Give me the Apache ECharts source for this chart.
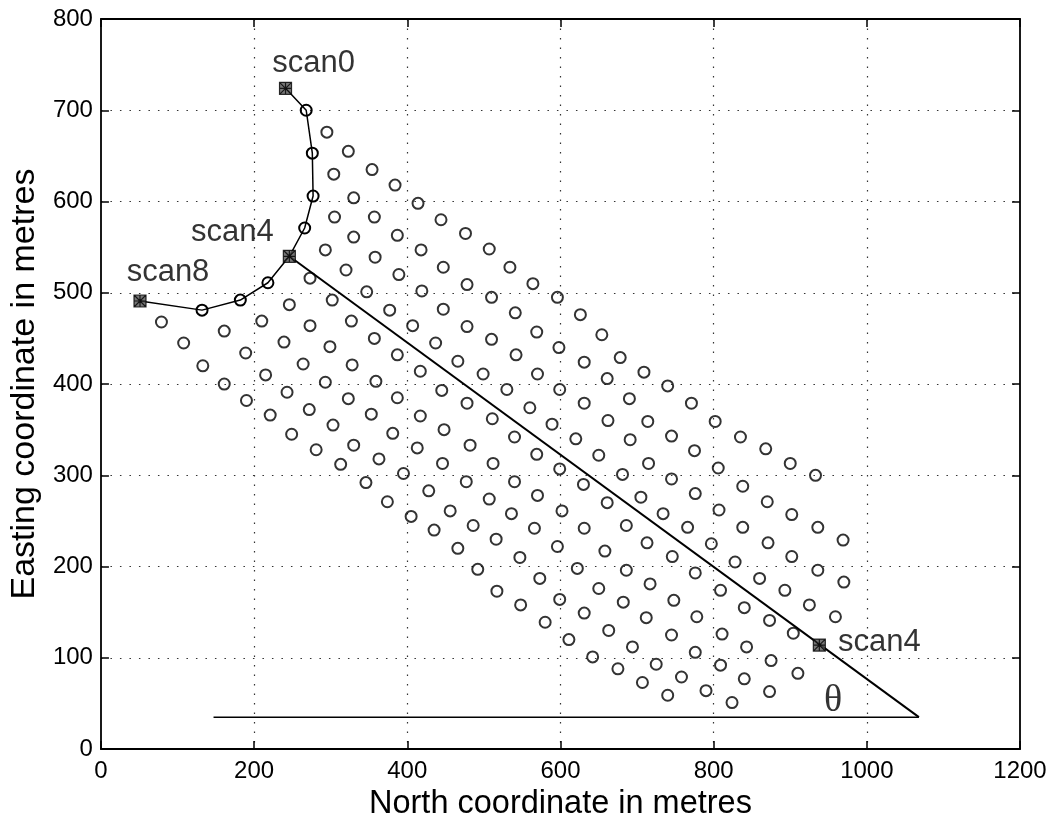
<!DOCTYPE html>
<html>
<head>
<meta charset="utf-8">
<title>Survey scan layout</title>
<script src="https://cdn.jsdelivr.net/npm/echarts@6/dist/echarts.min.js"></script>
<style>
  html, body { margin: 0; padding: 0; background: #fff; }
  #chart { width: 1055px; height: 826px; }
</style>
</head>
<body>
<div id="chart"></div>
<script>
// Axis ranges and tick spacing (metres)
const northTicks = { min: 0, max: 1200, step: 200 };
const eastTicks = { min: 0, max: 800, step: 100 };

// Vessel track through the scan start points
const trackNorth = [241, 268, 276, 277, 266, 246, 218, 182, 132, 51];
const trackEast  = [724, 700, 653, 606, 571, 540, 511, 492, 481, 491];
const trackScanIdx = [0, 5, 9]; // track points that are scan starts

// Named scan positions
const scanNames = ['scan0', 'scan4', 'scan8', 'scan4'];
const scanNorth = [241, 246, 51, 938];
const scanEast  = [724, 540, 491, 114];

// Heading of scan4 and the reference (horizontal) line for the angle
const headingNorth = [246, 1068];
const headingEast  = [540, 35];
const baseNorth = [147, 1068];
const baseEast  = [35, 35];
const angleText = 'θ';
const angleNorth = 956;
const angleEast = 53;

// Sample positions along the scans
const sampleNorth = [
  295, 323, 304, 330, 305, 330, 293, 320,
  354, 384, 357, 414, 444, 476, 507, 534, 387, 358, 418, 447,
  273, 302, 246, 79, 210, 327, 273, 161, 108, 239, 299, 189, 264, 328, 133, 215, 293, 161, 243, 323, 190, 272, 221, 303, 249, 330, 281, 313,
  389, 478, 564, 347, 419, 510, 596, 377, 447, 541, 626, 407, 478, 569, 654, 357, 510, 598, 678, 437, 387, 542, 631, 709, 466, 417, 499, 570, 661, 740,
  359, 445, 530, 599, 387, 478, 631, 690, 771, 353, 417, 511, 560, 589, 662, 714, 381, 448, 540, 620, 691, 745, 413, 482, 569, 650, 775, 363, 446, 512,
  599, 715, 395, 477, 540, 630, 681, 745, 346, 428, 507, 570, 705, 776, 374, 456, 536, 602, 661, 734, 405, 486, 566, 631, 686, 766, 435, 516,
  466, 596, 658, 713, 746, 492, 547, 622, 686, 776, 573, 650, 717, 517, 599, 682, 748, 548, 631, 712, 778, 580, 663, 745, 611, 694, 776, 642, 725, 675, 758, 707, 740,
  802, 835, 868, 900, 933, 806, 838, 870, 902, 936, 807, 838,
  797, 871, 902, 969, 828, 860, 936, 809, 893, 970, 840, 925, 873, 959, 811, 904, 843, 809, 875, 840, 910, 790, 873, 824
];
const sampleEast = [
  676, 655, 630, 604, 583, 561, 547, 525,
  635, 618, 583, 598, 580, 565, 548, 528, 563, 539, 547, 528,
  516, 492, 487, 468, 469, 469, 464, 458, 445, 446, 441, 434, 422, 421, 420, 410, 402, 400, 391, 384, 382, 372, 366, 355, 345, 333, 328, 312,
  520, 509, 510, 501, 502, 495, 495, 481, 482, 478, 476, 464, 463, 457, 454, 450, 449, 440, 429, 445, 432, 432, 424, 413, 425, 414, 411, 411, 406, 398,
  403, 393, 394, 394, 385, 379, 379, 384, 379, 367, 365, 362, 374, 356, 360, 359, 346, 350, 342, 340, 339, 343, 330, 333, 323, 322, 327, 318, 313, 313,
  307, 313, 302, 293, 293, 290, 301, 296, 292, 283, 274, 278, 276, 280, 271, 261, 258, 261, 270, 258, 255, 245, 242, 242, 245, 243, 240, 230,
  220, 222, 217, 226, 211, 197, 210, 198, 196, 193, 187, 176, 181, 173, 164, 161, 163, 158, 149, 144, 145, 139, 130, 125, 120, 112, 106, 101, 93, 88, 79, 73, 59,
  359, 342, 329, 313, 300, 308, 288, 271, 257, 243, 262, 243,
  225, 226, 211, 229, 205, 187, 196, 174, 174, 183, 155, 158, 141, 145, 126, 127, 112, 92, 97, 77, 83, 64, 63, 51
];

const FONT = 'Liberation Sans, Arial, Helvetica, sans-serif';
const INK = '#000';

const zip = (xs, ys) => xs.map((x, i) => [x, ys[i]]);

// Label placement for each named scan point (pixel offsets from the marker)
const scanLabelOffsets = [[28, -25], [-57, -24], [28, -29], [60, -3]];

// Square marker with an asterisk inside
const scanSymbol = 'path://M0,0 L12,0 L12,12 L0,12 Z M0,0 L12,12 M12,0 L0,12 M6,0 L6,12 M0,6 L12,6';

const gridDots = { type: [1.5, 8], color: '#333', width: 1.2 };

function makeAxis(range, pos, primary, extra) {
  return Object.assign({
    type: 'value',
    position: pos,
    min: range.min,
    max: range.max,
    interval: range.step,
    axisLine: { show: true, onZero: false, lineStyle: { color: INK, width: 1.8 } },
    axisTick: { show: true, inside: true, length: 8, lineStyle: { color: INK, width: 1.5 } },
    axisLabel: primary
      ? { show: true, color: INK, fontSize: 24, fontFamily: FONT,
          margin: pos === 'bottom' ? 10 : 8, formatter: v => String(v) }
      : { show: false },
    splitLine: primary
      ? { show: true, showMinLine: false, showMaxLine: false, lineStyle: gridDots }
      : { show: false }
  }, extra || {});
}

const trackData = zip(trackNorth, trackEast).map((p, i) =>
  trackScanIdx.includes(i) ? { value: p, symbol: 'none' } : { value: p });

const scanData = zip(scanNorth, scanEast).map((p, i) => ({
  value: p,
  name: scanNames[i],
  label: { offset: scanLabelOffsets[i] }
}));

const ringStyle = { color: 'rgba(0,0,0,0)', borderColor: INK, borderWidth: 2 };

const option = {
  animation: false,
  backgroundColor: '#fff',
  grid: { left: 93, right: 35, top: 19, bottom: 71, containLabel: false },
  xAxis: [
    makeAxis(northTicks, 'bottom', true, {
      name: 'North coordinate in metres',
      nameLocation: 'middle',
      nameGap: 36,
      nameTextStyle: { color: INK, fontSize: 32.5, fontFamily: FONT }
    }),
    makeAxis(northTicks, 'top', false)
  ],
  yAxis: [
    makeAxis(eastTicks, 'left', true, {
      name: 'Easting coordinate in metres',
      nameLocation: 'middle',
      nameGap: 48,
      nameTextStyle: { color: INK, fontSize: 34, fontFamily: FONT }
    }),
    makeAxis(eastTicks, 'right', false)
  ],
  series: [
    {
      name: 'reference',
      type: 'line',
      data: zip(baseNorth, baseEast),
      symbol: 'none',
      lineStyle: { color: INK, width: 1.5 },
      z: 3
    },
    {
      name: 'heading',
      type: 'line',
      data: zip(headingNorth, headingEast),
      symbol: 'none',
      lineStyle: { color: INK, width: 2 },
      z: 3
    },
    {
      name: 'samples',
      type: 'scatter',
      data: zip(sampleNorth, sampleEast),
      symbol: 'circle',
      symbolSize: 11,
      itemStyle: ringStyle,
      z: 4
    },
    {
      name: 'track',
      type: 'line',
      data: trackData,
      symbol: 'circle',
      symbolSize: 11,
      showSymbol: true,
      lineStyle: { color: INK, width: 1.5 },
      itemStyle: ringStyle,
      z: 5
    },
    {
      name: 'scans',
      type: 'scatter',
      data: scanData,
      symbol: scanSymbol,
      symbolSize: 12,
      itemStyle: { color: '#555', borderColor: INK, borderWidth: 1.2 },
      label: {
        show: true,
        position: 'inside',
        formatter: p => p.name,
        color: INK,
        fontSize: 31,
        fontFamily: FONT,
        align: 'center',
        verticalAlign: 'middle'
      },
      z: 6
    },
    {
      name: 'angle',
      type: 'scatter',
      data: [{ value: [angleNorth, angleEast], name: angleText }],
      symbol: 'circle',
      symbolSize: 1,
      itemStyle: { color: 'rgba(0,0,0,0)' },
      label: {
        show: true,
        position: 'inside',
        formatter: p => p.name,
        color: INK,
        fontSize: 38,
        fontFamily: 'Liberation Serif, Times New Roman, serif',
        align: 'center',
        verticalAlign: 'middle'
      },
      z: 6
    }
  ]
};

const chart = echarts.init(document.getElementById('chart'), null, { renderer: 'canvas' });
chart.setOption(option);
</script>
</body>
</html>
